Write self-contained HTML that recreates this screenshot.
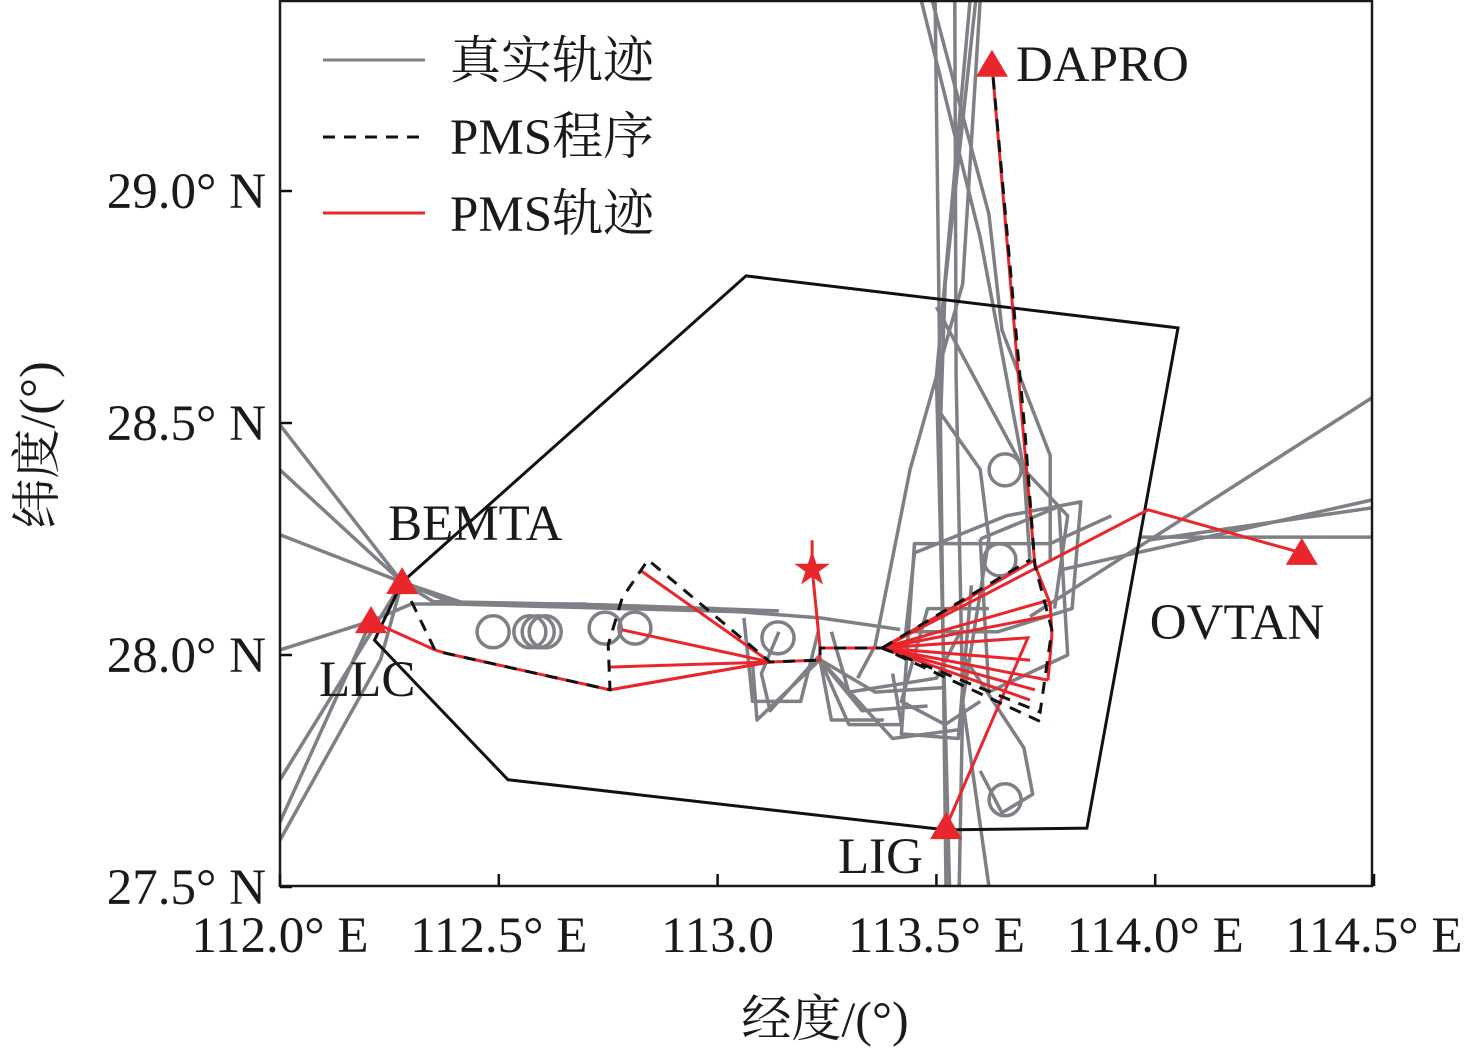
<!DOCTYPE html>
<html><head><meta charset="utf-8"><style>
html,body{margin:0;padding:0;background:#fff;}
svg text{font-family:"Liberation Serif","Noto Serif CJK SC",serif;fill:#1a1a1a;}
</style></head><body>
<svg id="chart" width="1476" height="1050" xmlns="http://www.w3.org/2000/svg">
<g id="gray"></g>
<g id="loops"></g>
<g id="poly"></g>
<g id="red"></g>
<g id="dash"></g>
<g id="marks"></g>
<rect x="280" y="1" width="1092" height="885" fill="none" stroke="#1a1a1a" stroke-width="2.5"/>
<g id="axes"></g>
<g>
<line x1="323" y1="60" x2="425" y2="60" stroke="#7f8085" stroke-width="3"/>
<text x="450" y="78" font-size="51">真实轨迹</text>
<line x1="323" y1="137" x2="425" y2="137" stroke="#111" stroke-width="3" stroke-dasharray="12,9"/>
<text x="450" y="154" font-size="51">PMS程序</text>
<line x1="323" y1="213" x2="425" y2="213" stroke="#e8262b" stroke-width="3"/>
<text x="450" y="231" font-size="51">PMS轨迹</text>
</g>
<text x="825" y="1036" font-size="50" text-anchor="middle">经度/(°)</text>
<text transform="translate(54,445) rotate(-90)" font-size="50" text-anchor="middle">纬度/(°)</text>
</svg>
<script>
const xTicks=[112.0,112.5,113.0,113.5,114.0,114.5];
const xTickLabels=["112.0° E","112.5° E","113.0","113.5° E","114.0° E","114.5° E"];
const yTicks=[27.5,28.0,28.5,29.0];
const yTickLabels=["27.5° N","28.0° N","28.5° N","29.0° N"];
const waypointNames=["DAPRO","LLC","BEMTA","OVTAN","LIG"];
const waypointLon=[113.627,112.208,112.279,114.335,113.522];
const waypointLat=[29.272,28.073,28.157,28.220,27.629];
const airportLon=113.216, airportLat=28.187;
const boundaryLon=[113.065,114.052,113.844,113.522,112.521,112.216,112.279];
const boundaryLat=[28.817,28.705,27.627,27.623,27.731,28.032,28.157];
const procedurePaths=[
 [[112.279,28.157],[112.354,28.011],[112.377,28.004],[112.754,27.925],[112.750,28.022],[112.782,28.123],[112.841,28.205],[113.120,27.985],[113.234,27.989],[113.234,28.015],[113.376,28.015],[113.755,27.849]],
 [[113.376,28.015],[113.737,27.877],[113.764,28.054],[113.725,28.194],[113.702,28.485],[113.627,29.272]],
 [[113.376,28.015],[113.714,28.205]]
];
const pmsPaths=[
 [[113.627,29.272],[113.696,28.506],[113.725,28.194],[113.760,28.110],[113.764,28.043],[113.755,27.946]],
 [[112.208,28.073],[112.354,28.011],[112.377,28.004],[112.754,27.925],[113.120,27.985],[113.234,27.989],[113.234,28.015],[113.376,28.015]],
 [[113.234,28.015],[113.216,28.187]],
 [[113.120,27.985],[112.823,28.183]],[[113.120,27.985],[112.782,28.054]],[[113.120,27.985],[112.750,27.974]],[[113.120,27.985],[112.754,27.925]],
 [[113.376,28.015],[113.984,28.313],[114.335,28.220]],
 [[113.376,28.015],[113.725,28.205]],[[113.376,28.015],[113.760,28.119]],[[113.376,28.015],[113.764,28.086]],
 [[113.376,28.015],[113.709,28.037],[113.522,27.629]],
 [[113.376,28.015],[113.714,27.989]],[[113.376,28.015],[113.755,27.946]],[[113.376,28.015],[113.725,27.925]],[[113.376,28.015],[113.714,27.903]]
];
const grayPaths=[
 [[113.497,29.412],[113.508,28.6],[113.522,27.502]],
 [[113.577,29.412],[113.500,28.6],[113.530,27.502]],
 [[113.542,29.412],[113.545,28.6],[113.560,27.9],[113.552,27.502]],
 [[113.465,29.412],[113.600,28.90],[113.660,28.60],[113.700,28.40],[113.714,28.20]],
 [[113.490,29.412],[113.620,28.95],[113.650,28.70],[113.760,28.43],[113.760,28.20]],
 [[113.600,29.412],[113.560,28.8],[113.440,28.40],[113.360,28.02],[113.320,27.95]],
 [[113.590,29.412],[113.520,28.80],[113.510,28.52],[113.600,28.40],[113.620,28.25],[113.560,27.90],[113.620,27.502]],
 [[113.50,28.75],[113.70,28.40],[113.80,28.30],[113.77,28.10]],
 [[112.000,28.496],[112.279,28.157],[112.400,28.110],[113.051,28.093],[113.234,28.080],[113.417,28.055]],
 [[112.000,28.399],[112.279,28.157],[112.350,28.115],[112.743,28.108],[113.140,28.095]],
 [[112.000,28.259],[112.279,28.157],[112.420,28.112],[113.000,28.100]],
 [[112.000,28.011],[112.208,28.073],[112.300,28.110],[112.700,28.110]],
 [[112.000,27.731],[112.279,28.157]],
 [[112.000,27.640],[112.208,28.073]],
 [[112.000,27.601],[112.230,27.990],[112.279,28.157]],
 [[113.714,28.083],[114.495,28.554]],
 [[113.782,28.183],[114.495,28.334]],
 [[113.988,28.248],[114.495,28.317]],
 [[113.965,28.254],[114.495,28.254]],
 [[113.90,28.30],[113.760,28.24],[113.450,28.24],[113.420,27.83],[113.550,27.82],[113.58,28.15]],
 [[113.660,28.30],[113.830,28.33],[113.810,28.10],[113.640,28.05],[113.430,28.05],[113.450,28.22],[113.660,28.30]],
 [[113.600,28.25],[113.780,28.32],[113.80,28.00],[113.62,27.92],[113.60,28.25]],
 [[113.234,28.00],[113.120,27.88],[113.100,27.96],[113.14,28.05]],
 [[113.234,27.99],[113.300,27.85],[113.420,27.85],[113.400,27.96]],
 [[113.234,27.99],[113.260,27.86],[113.380,27.86]],
 [[113.234,27.99],[113.330,27.88],[113.480,27.89]],
 [[113.234,27.99],[113.360,27.92],[113.520,27.93]],
 [[113.234,27.99],[113.090,27.86],[113.080,27.98]],
 [[113.234,27.99],[113.400,27.82],[113.560,27.84]],
 [[113.060,28.08],[113.080,27.90],[113.190,27.90],[113.230,28.05]],
 [[113.260,28.05],[113.300,27.92],[113.500,27.95],[113.560,28.06]],
 [[113.560,28.00],[113.700,27.80],[113.720,27.70],[113.650,27.66],[113.600,27.75]],
 [[113.60,27.90],[113.52,27.85],[113.42,27.90],[113.48,28.10],[113.62,28.10]]
];
const loopLon=[112.487,112.571,112.606,112.590,112.743,112.811,113.138,113.657,113.645,113.657];
const loopLat=[28.050,28.050,28.050,28.050,28.058,28.058,28.037,28.399,28.205,27.688];

const X=lon=>280+(lon-112)*437.6;
const Y=lat=>655-(lat-28)*464;
const NS="http://www.w3.org/2000/svg";
function mk(tag,parent){const e=document.createElementNS(NS,tag);document.getElementById(parent).appendChild(e);return e;}
function pts(p){return p.map(q=>X(q[0]).toFixed(1)+","+Y(q[1]).toFixed(1)).join(" ");}

grayPaths.forEach((p,i)=>{const e=mk("polyline","gray");


e.setAttribute("points",pts(p));e.setAttribute("fill","none");e.setAttribute("stroke","#7f8085");e.setAttribute("stroke-width","3.5");e.setAttribute("stroke-linejoin","round");});
loopLon.forEach((l,i)=>{const e=mk("circle","loops");


e.setAttribute("cx",X(l));e.setAttribute("cy",Y(loopLat[i]));e.setAttribute("r",16);e.setAttribute("fill","none");e.setAttribute("stroke","#7f8085");e.setAttribute("stroke-width","3.5");});
{const e=mk("polygon","poly");


e.setAttribute("points",pts(boundaryLon.map((l,i)=>[l,boundaryLat[i]])));e.setAttribute("fill","none");e.setAttribute("stroke","#111");e.setAttribute("stroke-width","3");}
pmsPaths.forEach(p=>{const e=mk("polyline","red");


e.setAttribute("points",pts(p));e.setAttribute("fill","none");e.setAttribute("stroke","#e8262b");e.setAttribute("stroke-width","3");});
procedurePaths.forEach(p=>{const e=mk("polyline","dash");


e.setAttribute("points",pts(p));e.setAttribute("fill","none");e.setAttribute("stroke","#111");e.setAttribute("stroke-width","3");e.setAttribute("stroke-dasharray","12,9");});
const labelOff=[[24,16],[-52,75],[-14,-42],[-152,86],[-108,46]];
waypointNames.forEach((n,i)=>{const x=X(waypointLon[i]),y=Y(waypointLat[i]);
const t=mk("polygon","marks");


t.setAttribute("points",`${x},${y-15} ${x-16},${y+12} ${x+16},${y+12}`);t.setAttribute("fill","#e8262b");
const s=mk("text","marks");


s.setAttribute("x",x+labelOff[i][0]);s.setAttribute("y",y+labelOff[i][1]);s.setAttribute("font-size","51");s.textContent=n;});
{const x=X(airportLon),y=Y(airportLat);const s=mk("text","marks");


s.setAttribute("x",x);s.setAttribute("y",y+14);s.setAttribute("font-size","38");s.setAttribute("text-anchor","middle");s.setAttribute("style","fill:#e8262b");s.textContent="★";
const l=mk("line","marks");


l.setAttribute("x1",x);l.setAttribute("x2",x);l.setAttribute("y1",y-28);l.setAttribute("y2",y);l.setAttribute("stroke","#e8262b");l.setAttribute("stroke-width","3");}
xTicks.forEach((v,i)=>{const x=X(v);const l=mk("line","axes");


l.setAttribute("x1",x);l.setAttribute("x2",x);l.setAttribute("y1",886);l.setAttribute("y2",874);l.setAttribute("stroke","#111");l.setAttribute("stroke-width","2.5");
const t=mk("text","axes");


t.setAttribute("x",x);t.setAttribute("y",952);t.setAttribute("font-size","51");t.setAttribute("text-anchor","middle");t.textContent=xTickLabels[i];});
yTicks.forEach((v,i)=>{const y=Y(v);const l=mk("line","axes");


l.setAttribute("x1",280);l.setAttribute("x2",292);l.setAttribute("y1",y);l.setAttribute("y2",y);l.setAttribute("stroke","#111");l.setAttribute("stroke-width","2.5");
const t=mk("text","axes");


t.setAttribute("x",266);t.setAttribute("y",y+17);t.setAttribute("font-size","51");t.setAttribute("text-anchor","end");t.textContent=yTickLabels[i];});
</script>
</body></html>
